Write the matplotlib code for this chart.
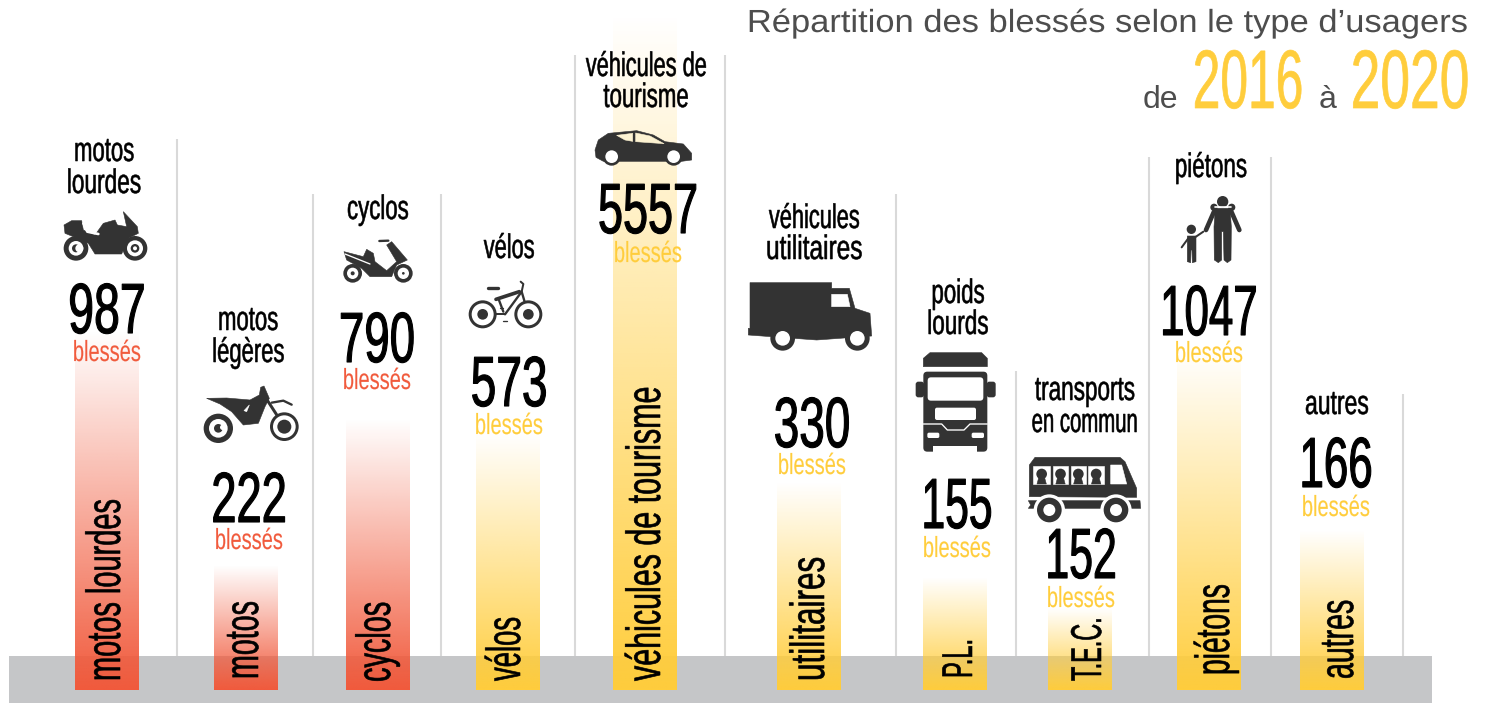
import numpy as np
import matplotlib
matplotlib.use("Agg")
import matplotlib.pyplot as plt
from matplotlib.colors import to_rgb
from matplotlib.font_manager import FontProperties
from matplotlib.patches import Circle, Polygon, Rectangle, FancyBboxPatch
from matplotlib.patheffects import AbstractPathEffect
from matplotlib.textpath import TextPath
from matplotlib.transforms import Affine2D

# ---- data ----
categories = ["motos lourdes", "motos", "cyclos", "vélos", "véhicules de tourisme",
              "utilitaires", "P.L.", "T.E.C.", "piétons", "autres"]
blesses = ["987", "222", "790", "573", "5557", "330", "155", "152", "1047", "166"]
# the bars of the original are not to scale: drawn heights
bar_heights = [360, 125, 272, 258, 676, 208, 113, 82, 340, 160]
top_labels = [["motos", "lourdes"], ["motos", "légères"], ["cyclos"], ["vélos"],
              ["véhicules de", "tourisme"], ["véhicules", "utilitaires"],
              ["poids", "lourds"], ["transports", "en commun"], ["piétons"], ["autres"]]

# ---- layout (pixels of the 1488x703 picture) ----
RED, YEL, DARK, GREY = "#F15A3C", "#FFCD3C", "#333333", "#4D4D4D"
bar_colors = [RED, RED, RED] + [YEL] * 7
bar_left = [75, 214, 346, 476, 613, 777, 923, 1048, 1177, 1300]
BAR_W, BASE = 64, 690
rot_base = [120, 258, 390, 520, 660, 824, 972, 1101, 1229, 1353]
rot_start = [681, 679, 682, 681, 681, 681, 678, 681, 675, 679]
rot_len = [179, 75, 78, 63, 293, 121, 35, 61, 88, 77]
rot_px = [48, 48, 48, 48, 48, 48, 43, 43, 48, 48]
num_x = [107, 249, 377, 509, 648, 812, 957, 1081, 1209, 1336]
num_base = [333, 522, 362, 406, 233, 447, 528, 578, 335, 487]
num_w = [73, 71, 72, 73, 96, 73, 66, 66, 92, 68]
ble_base = [361, 549, 389, 434, 262, 474, 557, 607, 362, 516]
top_x = [104, 248, 378, 509, 646, 814, 958, 1085, 1211, 1337]
top_base = [[161, 193], [330, 362], [219], [258], [76, 107], [228, 259],
            [303, 334], [400, 432], [177], [414]]
top_w = [[58, 72], [58, 70], [60], [50], [120, 84], [90, 94], [51, 59], [99, 104], [70], [62]]
div_x = [177, 313, 441, 575, 725, 896, 1016, 1149, 1271, 1403]
div_top = [139, 194, 194, 55, 55, 194, 371, 157, 157, 394]

fig = plt.figure(figsize=(14.88, 7.03), dpi=100)
ax = fig.add_axes([0, 0, 1, 1])
ax.set_xlim(0, 1488)
ax.set_ylim(703, 0)
ax.axis("off")


class Stretch(AbstractPathEffect):
    """Stretch real text perpendicular to its run about its baseline, with optional emboldening."""
    def __init__(self, cx, cy, sx=1.0, sy=1.0, stroke=0.0):
        super().__init__()
        self.tr = Affine2D().translate(-cx, -cy).scale(sx, sy).translate(cx, cy)
        self.stroke = stroke

    def draw_path(self, renderer, gc, tpath, affine, rgbFace=None):
        g = renderer.new_gc()
        g.copy_properties(gc)
        if self.stroke and rgbFace is not None:
            g.set_linewidth(self.stroke)
            g.set_foreground(rgbFace)
            g.set_joinstyle("round")
        renderer.draw_path(g, tpath, affine + self.tr, rgbFace)
        g.restore()


def txt(x, y, s, px, width, color="black", rotated=False, ha="center",
        family="Liberation Sans", stroke=0.0):
    """px: apparent glyph size; width: length of the run. The font size gives the
    width of the run, the path effect restores the glyph height of a condensed face."""
    fp = FontProperties(family=family)
    natural = TextPath((0, 0), s, size=px, prop=fp).get_extents().width
    k = width / natural
    cx, cy = ax.transData.transform((x, y))
    eff = Stretch(cx, cy, sx=1 / k, stroke=stroke) if rotated else Stretch(cx, cy, sy=1 / k, stroke=stroke)
    t = ax.text(x, y, s, fontsize=px * k * 0.72, color=color, family=family,
                ha="left" if rotated else ha, va="baseline",
                rotation=90 if rotated else 0, rotation_mode="anchor", zorder=5)
    t.set_path_effects([eff])
    return t


# band and dividers
ax.add_patch(Rectangle((9, 656), 1423, 47, fc="#C5C6C8", ec="none", zorder=1))
ax.vlines(div_x, div_top, 656, color="#D9D9D9", lw=1.5, zorder=1)

# gradient bars
for left, h, c in zip(bar_left, bar_heights, bar_colors):
    rgba = np.zeros((256, 1, 4))
    rgba[..., :3] = to_rgb(c)
    rgba[:, 0, 3] = np.linspace(0, 1, 256)
    ax.imshow(rgba, extent=(left, left + BAR_W, BASE, BASE - h), aspect="auto",
              interpolation="bilinear", zorder=2)
ax.set_xlim(0, 1488)
ax.set_ylim(703, 0)


# ---- icons ----
class Icon:
    def __init__(self, ox, oy, s=1 / 3):
        self.ox, self.oy, self.s = ox, oy, s

    def p(self, x, y):
        return (self.ox + x * self.s, self.oy + y * self.s)

    def poly(self, pts, c=DARK, z=3):
        ax.add_patch(Polygon([self.p(*q) for q in pts], closed=True, fc=c, ec=c, lw=0.4,
                             joinstyle="round", zorder=z))

    def circ(self, x, y, r, c=DARK, z=3):
        ax.add_patch(Circle(self.p(x, y), r * self.s, fc=c, ec="none", zorder=z))

    def line(self, pts, w, c=DARK, z=3):
        xs, ys = zip(*[self.p(*q) for q in pts])
        ax.plot(xs, ys, color=c, lw=w * self.s * 0.72, solid_capstyle="round",
                solid_joinstyle="round", zorder=z)

    def rbox(self, x0, y0, x1, y1, r, c=DARK, z=3):
        a, b = self.p(x0, y0), self.p(x1, y1)
        rr = r * self.s
        ax.add_patch(FancyBboxPatch((a[0] + rr, a[1] + rr), b[0] - a[0] - 2 * rr, b[1] - a[1] - 2 * rr,
                                    boxstyle=f"round,pad={rr},rounding_size={rr}",
                                    fc=c, ec="none", zorder=z))

    def wheel(self, x, y, r0, r1, r2=0, halo=0, halo_c="white"):
        if halo:
            self.circ(x, y, halo, halo_c, 3.2)
        self.circ(x, y, r0, DARK, 3.3)
        self.circ(x, y, r1, "white", 3.4)
        if r2:
            self.circ(x, y, r2, DARK, 3.5)


# heavy motorbike
i = Icon(0, 130)
i.poly([(192, 285), (215, 272), (245, 272), (250, 300), (285, 315), (310, 280), (345, 270),
        (352, 285), (380, 290), (370, 245), (412, 290), (415, 310), (385, 325), (365, 372),
        (285, 372), (265, 340), (220, 320), (195, 310)])
i.line([(250, 280), (262, 305), (295, 312)], 8, "white", 3.1)
i.wheel(228, 355, 37, 22, 12)
i.circ(238, 355, 12, "white", 3.6)
i.wheel(405, 355, 37, 24, 13, halo=0)
i.circ(405, 355, 6, "white", 3.6)

# dirt bike
i = Icon(190, 370)
i.poly([(50, 85), (110, 84), (180, 90), (208, 75), (212, 52), (222, 48), (238, 85), (225, 110),
        (205, 160), (160, 165), (125, 125), (90, 102)])
i.poly([(162, 122), (178, 105), (170, 125)], "white", 3.1)
i.line([(225, 80), (283, 170)], 9)
i.line([(245, 98), (280, 92), (305, 104)], 7)
i.wheel(85, 175, 44, 28, 13)
i.circ(98, 172, 8, "white", 3.6)
i.wheel(283, 170, 43, 34, 21)

# scooter
i = Icon(0, 130)
i.poly([(1032, 365), (1090, 380), (1100, 358), (1120, 370), (1125, 395), (1160, 422), (1190, 395),
        (1160, 345), (1175, 335), (1222, 390), (1190, 405), (1175, 440), (1110, 440), (1085, 415),
        (1040, 390)])
i.line([(1035, 372), (1110, 402)], 4, "white", 3.1)
i.line([(1138, 333), (1165, 332)], 7)
i.wheel(1058, 430, 28, 17, 6)
i.wheel(1210, 430, 28, 17, 4)

# bicycle
i = Icon(460, 270)
i.wheel(68, 133, 42, 33, 16)
i.wheel(205, 133, 42, 33, 16)
i.line([(68, 133), (135, 133)], 6)
i.line([(135, 133), (185, 65), (205, 133)], 7)
i.line([(115, 85), (130, 125)], 7)
i.line([(108, 88), (178, 65)], 11)
i.line([(83, 55), (113, 55)], 10)
i.line([(185, 65), (190, 42), (182, 35)], 6)
i.line([(120, 115), (130, 115)], 4)
i.line([(128, 153), (142, 153)], 4)

# car (window panes tinted by the bar behind)
i = Icon(570, 0)
i.poly([(75, 450), (85, 420), (115, 400), (200, 392), (250, 405), (285, 425), (340, 432),
        (365, 460), (365, 480), (335, 484), (100, 484), (78, 472)])
pane = "#FDF3D2"
i.poly([(140, 406), (188, 400), (188, 424), (165, 420)], pane, 3.1)
i.poly([(197, 399), (240, 408), (282, 431), (197, 425)], pane, 3.1)
i.wheel(125, 470, 27, 19, halo=0)
i.wheel(311, 470, 27, 19, halo=0)

# truck
i = Icon(570, 0)
i.poly([(540, 848), (785, 848), (785, 865), (838, 865), (855, 925), (900, 940), (905, 1008),
        (740, 1020), (535, 1005), (535, 985), (540, 985)])
i.poly([(785, 883), (832, 883), (840, 920), (785, 920)], "white", 3.1)
i.wheel(638, 1015, 37, 22)
i.wheel(862, 1015, 37, 22)

# heavy truck, front view
i = Icon(900, 340)
i.poly([(70, 80), (70, 55), (90, 38), (245, 38), (262, 55), (262, 80)])
i.rbox(70, 95, 262, 335, 12)
i.rbox(47, 125, 72, 172, 8)
i.rbox(260, 125, 287, 172, 8)
i.rbox(83, 112, 250, 182, 10, "white", 3.1)
i.rbox(105, 203, 228, 240, 6, "white", 3.1)
i.line([(70, 252), (125, 252), (142, 270), (192, 270), (210, 252), (262, 252)], 4, "white", 3.1)
i.rbox(82, 278, 118, 294, 5, "white", 3.1)
i.rbox(215, 278, 252, 294, 5, "white", 3.1)
ax.add_patch(Rectangle(i.p(100, 318), 132 / 3, 18 / 3, fc="white", ec="none", zorder=3.1))

# bus
i = Icon(900, 340)
i.poly([(388, 375), (405, 352), (660, 352), (675, 365), (710, 445), (710, 472), (388, 470)])
i.poly([(385, 482), (720, 482), (722, 505), (385, 505), (392, 495)])
for x0, x1 in [(400, 450), (458, 505), (512, 558), (565, 612)]:
    i.poly([(x0, 378), (x1, 378), (x1, 432), (x0, 432)], "white", 3.1)
    i.circ((x0 + x1) / 2, 402, 16, DARK, 3.2)
    i.poly([((x0 + x1) / 2 - 8, 410), ((x0 + x1) / 2 + 8, 410), ((x0 + x1) / 2 + 14, 432),
            ((x0 + x1) / 2 - 14, 432)], DARK, 3.2)
i.poly([(632, 375), (665, 375), (680, 432), (632, 432)], "white", 3.1)
i.wheel(448, 510, 37, 18, halo=47)
i.wheel(648, 510, 37, 18, halo=47)

# pedestrians
i = Icon(1140, 150)
i.circ(248, 155, 17)
i.circ(222, 172, 11)
i.circ(275, 172, 11)
i.poly([(226, 175), (270, 175), (274, 230), (273, 330), (262, 338), (252, 330), (250, 245),
        (245, 245), (245, 330), (235, 338), (223, 330), (222, 230)], z=3.2)
i.line([(226, 172), (272, 172)], 5, "white", 3.1)
i.line([(222, 185), (198, 240)], 14, z=3.3)
i.line([(274, 185), (298, 240)], 14, z=3.3)
i.circ(154, 238, 14)
i.poly([(142, 258), (168, 258), (168, 335), (157, 338), (156, 300), (153, 300), (152, 338),
        (142, 335)])
i.line([(147, 262), (125, 292)], 6)
i.line([(165, 262), (190, 245)], 6)

# ---- texts ----
for k, name in enumerate(categories):
    txt(rot_base[k], rot_start[k], name, rot_px[k], rot_len[k], rotated=True, stroke=0.45)
    txt(num_x[k], num_base[k], blesses[k], 71, num_w[k], stroke=0.8)
    txt(num_x[k], ble_base[k], "blessés", 29, 66, color=bar_colors[k], stroke=0.1)
    for line, base, w in zip(top_labels[k], top_base[k], top_w[k]):
        txt(top_x[k], base, line, 34, w, stroke=0.4)

txt(1469, 32, "Répartition des blessés selon le type d’usagers", 32, 717, color=GREY, ha="right")
ax.text(1160.5, 108, "de", fontsize=32 * 0.72, family="Liberation Sans", color=GREY,
        ha="center", va="baseline", zorder=5)
ax.text(1328, 108, "à", fontsize=32 * 0.72, family="Liberation Sans", color=GREY,
        ha="center", va="baseline", zorder=5)
txt(1248, 108, "2016", 83, 106, color=YEL, stroke=0.5)
txt(1410, 108, "2020", 83, 114, color=YEL, stroke=0.5)

fig.savefig("out.png", dpi=100)
